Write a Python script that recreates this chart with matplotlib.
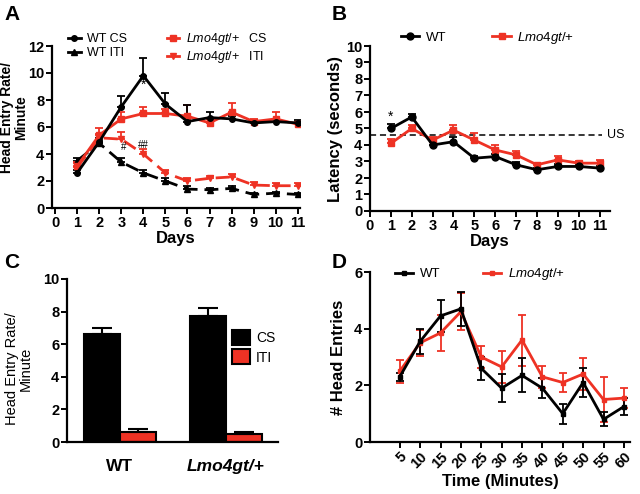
import matplotlib
matplotlib.use("Agg")
import matplotlib.pyplot as plt
import numpy as np

plt.rcParams['font.family'] = ['Liberation Sans', 'DejaVu Sans']
plt.rcParams['mathtext.fontset'] = 'custom'
plt.rcParams['mathtext.it'] = 'Liberation Sans:italic'
plt.rcParams['mathtext.rm'] = 'Liberation Sans'
plt.rcParams['mathtext.bf'] = 'Liberation Sans:bold'

RED = '#ee3224'
LMO = r'$\it{Lmo4gt/{+}}$'

# Panel A: head entry rate per day
days = np.arange(1, 12)
wt_cs = [2.6, 4.9, 7.5, 9.8, 7.7, 6.4, 6.7, 6.6, 6.3, 6.4, 6.3]
wt_cs_err = [0.2, 0.3, 0.8, 1.3, 0.8, 1.2, 0.4, 0.2, 0.2, 0.2, 0.2]
lmo_cs = [3.1, 5.4, 6.6, 7.0, 7.0, 6.8, 6.3, 7.1, 6.4, 6.6, 6.2]
lmo_cs_err = [0.3, 0.5, 0.5, 0.5, 0.3, 0.8, 0.3, 0.7, 0.2, 0.5, 0.2]
wt_iti = [3.5, 4.8, 3.4, 2.6, 2.0, 1.4, 1.35, 1.45, 1.0, 1.1, 1.0]
wt_iti_err = [0.2, 0.2, 0.3, 0.2, 0.2, 0.2, 0.1, 0.2, 0.1, 0.1, 0.1]
lmo_iti = [3.0, 5.2, 5.1, 4.0, 2.6, 2.0, 2.2, 2.3, 1.7, 1.65, 1.65]
lmo_iti_err = [0.3, 0.3, 0.5, 0.4, 0.2, 0.2, 0.2, 0.2, 0.2, 0.2, 0.2]

# Panel B: latency
wt_lat = [5.0, 5.7, 4.0, 4.2, 3.2, 3.3, 2.8, 2.5, 2.7, 2.7, 2.6]
wt_lat_err = [0.25, 0.2, 0.2, 0.3, 0.15, 0.15, 0.15, 0.1, 0.15, 0.15, 0.15]
lmo_lat = [4.1, 5.0, 4.3, 4.9, 4.3, 3.7, 3.4, 2.8, 3.1, 2.9, 2.9]
lmo_lat_err = [0.25, 0.2, 0.2, 0.3, 0.45, 0.3, 0.25, 0.1, 0.25, 0.15, 0.2]
us_onset = 4.6

# Panel C: bars
groups = ['WT', 'Lmo4gt/+']
cs_bar = [6.6, 7.7]
cs_bar_err = [0.4, 0.5]
iti_bar = [0.6, 0.5]
iti_bar_err = [0.2, 0.1]

# Panel D: head entries over time
minutes = np.arange(5, 65, 5)
wt_he = [2.3, 3.55, 4.45, 4.7, 2.6, 1.9, 2.35, 1.9, 1.0, 2.1, 0.8, 1.25]
wt_he_err = [0.15, 0.45, 0.55, 0.6, 0.4, 0.5, 0.6, 0.35, 0.35, 0.5, 0.25, 0.3]
lmo_he = [2.5, 3.5, 3.85, 4.6, 3.0, 2.65, 3.6, 2.3, 2.1, 2.4, 1.5, 1.55]
lmo_he_err = [0.4, 0.45, 0.65, 0.65, 0.4, 0.55, 0.9, 0.4, 0.35, 0.55, 0.8, 0.35]

W, H = 640, 494
fig = plt.figure(figsize=(6.4, 4.94), dpi=100)


def box(l, t, r, b):
    return [l / W, 1 - b / H, (r - l) / W, (b - t) / H]


def style(ax):
    for s in ['top', 'right']:
        ax.spines[s].set_visible(False)
    for s in ['left', 'bottom']:
        ax.spines[s].set_linewidth(1.6)
    ax.tick_params(width=1.4, length=4, labelsize=10.5, pad=1.5)
    for lab in ax.get_xticklabels() + ax.get_yticklabels():
        lab.set_fontweight('bold')


def up(err):
    return [np.zeros(len(err)), err]


def lines_of(ax):
    # legend handles: just the line+marker, no error bar glyph
    h, l = ax.get_legend_handles_labels()
    return [c.lines[0] for c in h], l


# ---- A
axA = fig.add_axes(box(52, 46, 300, 208))
kw = dict(capsize=3, elinewidth=1.3, capthick=1.3, lw=2, ms=4)
axA.errorbar(days, wt_iti, yerr=up(wt_iti_err), color='k', marker='^', ls=(0, (5, 2.5)), label='WT ITI', **kw)
axA.errorbar(days, lmo_iti, yerr=up(lmo_iti_err), color=RED, marker='v', ls=(0, (5, 2.5)), label=LMO + '   ITI', **kw)
axA.errorbar(days, lmo_cs, yerr=up(lmo_cs_err), color=RED, marker='s', label=LMO + '   CS', **kw)
axA.errorbar(days, wt_cs, yerr=up(wt_cs_err), color='k', marker='o', label='WT CS', **kw)
axA.set_xlim(-0.14, 11.1)
axA.set_ylim(0, 12)
axA.set_xticks(range(0, 12))
axA.set_yticks(range(0, 13, 2))
axA.set_xlabel('Days', fontsize=12, fontweight='bold', labelpad=1)
axA.set_ylabel('Head Entry Rate/\nMinute', fontsize=10, fontweight='bold', labelpad=0,
               linespacing=1.0)
axA.yaxis.set_label_coords(-0.095, 0.56)
axA.text(4, 8.8, '*', ha='center', fontsize=10)
axA.text(3.1, 4.3, '#', ha='center', fontsize=7)
axA.text(4.0, 4.45, '##', ha='center', fontsize=7)
h, l = lines_of(axA)
order = [3, 0, 2, 1]
for hh in h:
    hh.set_linestyle('-')
axA.legend([h[i] for i in order], [l[i] for i in order], ncol=2, frameon=False,
           loc='upper left', bbox_to_anchor=(0.04, 1.13), fontsize=9, handlelength=1.0,
           handletextpad=0.5, columnspacing=3.2, labelspacing=0.15, borderpad=0)
axA.lines[0].set_linestyle((0, (5, 2.5)))
axA.lines[3].set_linestyle((0, (5, 2.5)))
style(axA)

# ---- B
axB = fig.add_axes(box(370, 46, 610, 211))
kw = dict(capsize=3, elinewidth=1.3, capthick=1.3, lw=2, ms=5)
axB.axhline(us_onset, xmax=11.1 / 11.5, color='k', lw=1.1, ls=(0, (4, 2.5)))
axB.text(11.35, us_onset, 'US', va='center', ha='left', fontsize=9)
axB.errorbar(days, lmo_lat, yerr=up(lmo_lat_err), color=RED, marker='s', label=LMO, **kw)
axB.errorbar(days, wt_lat, yerr=up(wt_lat_err), color='k', marker='o', label='WT', **kw)
axB.set_xlim(0, 11.5)
axB.set_ylim(0, 10)
axB.set_xticks(range(0, 12))
axB.set_yticks(range(0, 11))
axB.set_xlabel('Days', fontsize=12, fontweight='bold', labelpad=1)
axB.set_ylabel('Latency (seconds)', fontsize=12, fontweight='bold', labelpad=2)
axB.text(1, 5.45, '*', ha='center', fontsize=10)
h, l = lines_of(axB)
axB.legend(h[::-1], l[::-1], ncol=2, frameon=False, loc='lower left',
           bbox_to_anchor=(0.1, 0.96), fontsize=9.5, handlelength=1.4,
           handletextpad=0.5, columnspacing=3.5, borderpad=0)
style(axB)

# ---- C
axC = fig.add_axes(box(67, 279, 278, 442))
x = np.arange(len(groups))
bw = 0.34
axC.bar(x - bw / 2, cs_bar, bw, yerr=up(cs_bar_err), color='k', edgecolor='k', lw=1.5,
        capsize=7, error_kw=dict(elinewidth=1.5, capthick=1.5), label='CS')
axC.bar(x + bw / 2, iti_bar, bw, yerr=up(iti_bar_err), color=RED, edgecolor='k', lw=1.5,
        capsize=7, error_kw=dict(elinewidth=1.5, capthick=1.5), label='ITI')
axC.set_xlim(-0.5, 1.49)
axC.set_ylim(0, 10)
axC.set_yticks(range(0, 11, 2))
axC.set_xticks(x)
axC.set_xticklabels(groups)
axC.set_ylabel('Head Entry Rate/\nMinute', fontsize=10.5, labelpad=0, linespacing=1.0)
axC.yaxis.set_label_coords(-0.16, 0.45)
axC.legend(frameon=False, loc='upper left', bbox_to_anchor=(0.75, 0.73), fontsize=10,
           handlelength=1.3, handleheight=1.3, handletextpad=0.4, labelspacing=0.3, borderpad=0)
style(axC)
axC.tick_params(axis='x', length=0, pad=12)
for lab in axC.get_xticklabels():
    lab.set_fontsize(12.5)
axC.get_xticklabels()[1].set_fontstyle('italic')

# ---- D
axD = fig.add_axes(box(370, 272, 630, 442))
kw = dict(capsize=3, elinewidth=1.3, capthick=1.3, lw=2, ms=3)
axD.errorbar(minutes, lmo_he, yerr=lmo_he_err, color=RED, marker='s', label=LMO, **kw)
axD.errorbar(minutes, wt_he, yerr=wt_he_err, color='k', marker='s', label='WT', **kw)
axD.set_xlim(-2.3, 61.5)
axD.set_ylim(0, 6)
axD.set_xticks(minutes)
axD.set_yticks(range(0, 7, 2))
axD.set_xlabel('Time (Minutes)', fontsize=12, fontweight='bold', labelpad=2)
axD.set_ylabel('# Head Entries', fontsize=12, fontweight='bold', labelpad=6)
h, l = lines_of(axD)
axD.legend(h[::-1], l[::-1], ncol=2, frameon=False, loc='lower left',
           bbox_to_anchor=(0.07, 0.9), fontsize=9.5, handlelength=1.4,
           handletextpad=0.5, columnspacing=3.2, borderpad=0)
style(axD)
for lab in axD.get_xticklabels():
    lab.set_rotation(45)
    lab.set_ha('right')
    lab.set_rotation_mode('anchor')

# panel letters
for lbl, px, py in [('A', 4, 14), ('B', 332, 14), ('C', 4, 262), ('D', 332, 262)]:
    fig.text(px / W, 1 - py / H, lbl, fontsize=15, fontweight='bold', va='center')

fig.savefig('out.png', dpi=100)
